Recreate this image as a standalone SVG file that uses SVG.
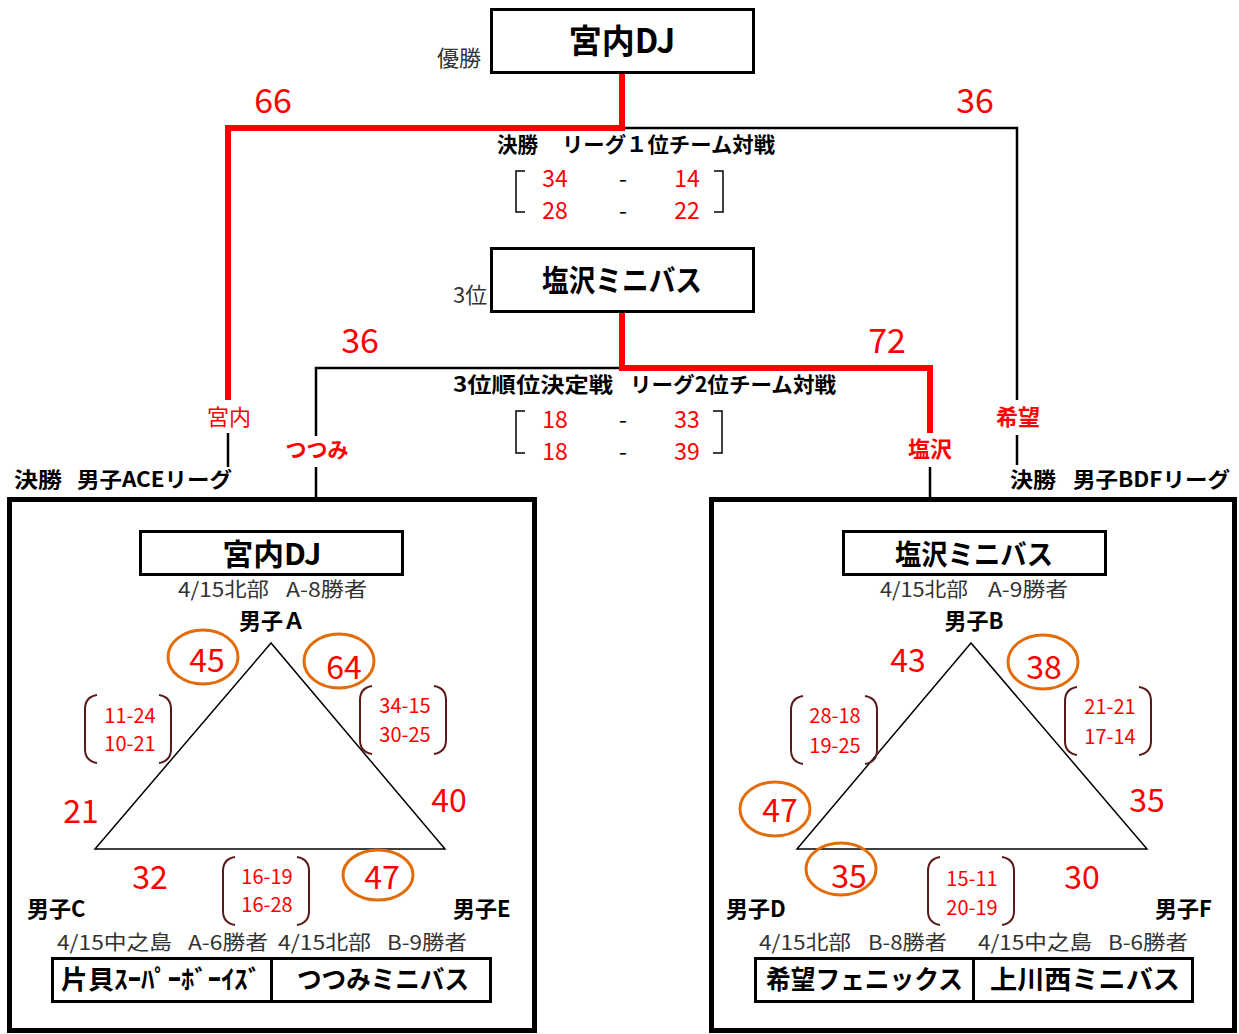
<svg xmlns="http://www.w3.org/2000/svg" width="1239" height="1034" viewBox="0 0 1239 1034">
<style>
text{font-family:"Noto Sans CJK JP","Noto Sans CJK SC",sans-serif}
.b{font-weight:700;fill:#000}
.n{fill:#333}
.r{fill:#f00}
.rb{fill:#f00;font-weight:700}
.m{text-anchor:middle}
.blk{stroke:#000;stroke-width:2.5;fill:none}
.red{stroke:#f00;stroke-width:6;fill:none}
.box{stroke:#000;stroke-width:3;fill:#fff}
.big{stroke:#000;stroke-width:5;fill:none}
.ov{stroke:#E36C0A;stroke-width:3;fill:none}
.br{stroke:#5a1a1a;stroke-width:2;fill:none}
.sq{stroke:#000;stroke-width:1.5;fill:none}
.tri{stroke:#000;stroke-width:1.5;fill:#fff}
.s34{font-size:32px}
.s24{font-size:23px}
.s20{font-size:20px}
</style>
<defs>
<path id="pb" class="br" d="M12,0 Q0,2 0,14 V54 Q0,66 12,68 M74,0 Q86,2 86,14 V54 Q86,66 74,68"/>
</defs>

<g id="connectors">
<polyline class="blk" points="622,128 1017,128 1017,400"/>
<line class="blk" x1="1017" y1="435" x2="1017" y2="465"/>
<polyline class="red" points="622,73 622,128 228,128 228,400"/>
<line class="blk" x1="228" y1="433" x2="228" y2="467"/>
<polyline class="blk" points="622,368 316,368 316,436"/>
<line class="blk" x1="316" y1="467" x2="316" y2="499"/>
<polyline class="red" points="622,313 622,368 930,368 930,433"/>
<line class="blk" x1="930" y1="467" x2="930" y2="499"/>
</g>

<g id="champion">
<rect class="box" x="491.5" y="9.5" width="262" height="63"/>
<text class="b m" x="622" y="53" font-size="33">宮内DJ</text>
<text class="n" x="437" y="66" font-size="22">優勝</text>
</g>
<g id="third">
<rect class="box" x="491.5" y="248.5" width="262" height="63"/>
<text class="b m" x="622" y="291" font-size="30" textLength="160" lengthAdjust="spacingAndGlyphs">塩沢ミニバス</text>
<text class="n" x="453" y="303" font-size="22">3位</text>
</g>

<g id="final-scores">
<text class="r m" x="273" y="113" font-size="34">66</text>
<text class="r m" x="975" y="113" font-size="34">36</text>
<text class="b" x="497" y="152" font-size="21" textLength="41" lengthAdjust="spacingAndGlyphs">決勝</text>
<text class="b" x="562" y="152" font-size="21" textLength="213" lengthAdjust="spacingAndGlyphs">リーグ１位チーム対戦</text>
<path class="sq" d="M525,171 H516 V212 H525 M714,171 H723 V212 H714"/>
<text class="r m s24" x="555" y="187">34</text>
<text class="m s24" x="623" y="187">-</text>
<text class="r m s24" x="687" y="187">14</text>
<text class="r m s24" x="555" y="219">28</text>
<text class="m s24" x="623" y="219">-</text>
<text class="r m s24" x="687" y="219">22</text>
</g>

<g id="third-scores">
<text class="r m" x="360" y="353" font-size="34">36</text>
<text class="r m" x="887" y="353" font-size="34">72</text>
<text class="b" x="453" y="392" font-size="21" textLength="160" lengthAdjust="spacingAndGlyphs">3位順位決定戦</text>
<text class="b" x="630" y="392" font-size="21" textLength="206" lengthAdjust="spacingAndGlyphs">リーグ2位チーム対戦</text>
<path class="sq" d="M525,411 H516 V453 H525 M713,411 H722 V453 H713"/>
<text class="r m s24" x="555" y="428">18</text>
<text class="m s24" x="623" y="428">-</text>
<text class="r m s24" x="687" y="428">33</text>
<text class="r m s24" x="555" y="460">18</text>
<text class="m s24" x="623" y="460">-</text>
<text class="r m s24" x="687" y="460">39</text>
</g>

<g id="labels">
<text class="r m" x="229" y="425" font-size="22">宮内</text>
<text class="rb m" x="317" y="457" font-size="21">つつみ</text>
<text class="rb m" x="930" y="457" font-size="22">塩沢</text>
<text class="rb m" x="1018" y="425" font-size="22">希望</text>
<text class="b" x="14" y="487" font-size="21" textLength="48" lengthAdjust="spacingAndGlyphs">決勝</text>
<text class="b" x="77" y="487" font-size="21" textLength="155" lengthAdjust="spacingAndGlyphs">男子ACEリーグ</text>
<text class="b" x="1010" y="487" font-size="21" textLength="46" lengthAdjust="spacingAndGlyphs">決勝</text>
<text class="b" x="1073" y="487" font-size="21" textLength="157" lengthAdjust="spacingAndGlyphs">男子BDFリーグ</text>
</g>

<g id="league-ace">
<rect class="big" x="9.5" y="499.5" width="525" height="531"/>
<rect class="box" x="140.5" y="531.5" width="262" height="43"/>
<text class="b m" x="272" y="565" font-size="30" textLength="99" lengthAdjust="spacingAndGlyphs">宮内DJ</text>
<text class="n" x="178" y="597" font-size="20" textLength="91" lengthAdjust="spacingAndGlyphs">4/15北部</text>
<text class="n" x="286" y="597" font-size="20" textLength="81" lengthAdjust="spacingAndGlyphs">A-8勝者</text>
<text class="b m" x="272" y="629" font-size="22">男子Ａ</text>
<polygon class="tri" points="271,643 95,849 445,849"/>
<ellipse class="ov" cx="203" cy="657" rx="35" ry="27"/>
<ellipse class="ov" cx="339" cy="661" rx="35" ry="27"/>
<ellipse class="ov" cx="378" cy="875" rx="35" ry="25"/>
<text class="r m s34" x="207" y="672">45</text>
<text class="r m s34" x="344" y="679">64</text>
<text class="r m s34" x="81" y="823">21</text>
<text class="r m s34" x="449" y="812">40</text>
<text class="r m s34" x="150" y="889">32</text>
<text class="r m s34" x="382" y="889">47</text>
<use href="#pb" transform="translate(85,695)"/>
<use href="#pb" transform="translate(360,686)"/>
<use href="#pb" transform="translate(223,857)"/>
<text class="r m s20" x="130" y="723">11-24</text>
<text class="r m s20" x="130" y="751">10-21</text>
<text class="r m s20" x="405" y="713">34-15</text>
<text class="r m s20" x="405" y="742">30-25</text>
<text class="r m s20" x="267" y="884">16-19</text>
<text class="r m s20" x="267" y="912">16-28</text>
<text class="b" x="27" y="917" font-size="22">男子C</text>
<text class="b" x="453" y="917" font-size="22">男子E</text>
<text class="n" x="57" y="950" font-size="20" textLength="115" lengthAdjust="spacingAndGlyphs">4/15中之島</text>
<text class="n" x="188" y="950" font-size="20" textLength="80" lengthAdjust="spacingAndGlyphs">A-6勝者</text>
<text class="n" x="278" y="950" font-size="20" textLength="93" lengthAdjust="spacingAndGlyphs">4/15北部</text>
<text class="n" x="387" y="950" font-size="20" textLength="80" lengthAdjust="spacingAndGlyphs">B-9勝者</text>
<rect class="box" x="52.5" y="958.5" width="219" height="43"/>
<rect class="box" x="271.5" y="958.5" width="219" height="43"/>
<text class="b" x="61" y="989" font-size="26" textLength="200" lengthAdjust="spacingAndGlyphs">片貝ｽｰﾊﾟｰﾎﾞｰｲｽﾞ</text>
<text class="b" x="297" y="989" font-size="26" textLength="172" lengthAdjust="spacingAndGlyphs">つつみミニバス</text>
</g>

<g id="league-bdf">
<rect class="big" x="711.5" y="499.5" width="523" height="531"/>
<rect class="box" x="843.5" y="531.5" width="262" height="43"/>
<text class="b m" x="974" y="565" font-size="28" textLength="158" lengthAdjust="spacingAndGlyphs">塩沢ミニバス</text>
<text class="n" x="880" y="597" font-size="20" textLength="88" lengthAdjust="spacingAndGlyphs">4/15北部</text>
<text class="n" x="988" y="597" font-size="20" textLength="80" lengthAdjust="spacingAndGlyphs">A-9勝者</text>
<text class="b m" x="974" y="629" font-size="22">男子B</text>
<polygon class="tri" points="971,643 797,849 1147,849"/>
<ellipse class="ov" cx="1043" cy="662" rx="35" ry="27"/>
<ellipse class="ov" cx="775" cy="809" rx="35" ry="27"/>
<ellipse class="ov" cx="841" cy="869" rx="35" ry="26"/>
<text class="r m s34" x="908" y="672">43</text>
<text class="r m s34" x="1044" y="679">38</text>
<text class="r m s34" x="780" y="822">47</text>
<text class="r m s34" x="1147" y="812">35</text>
<text class="r m s34" x="849" y="888">35</text>
<text class="r m s34" x="1082" y="889">30</text>
<use href="#pb" transform="translate(791,696)"/>
<use href="#pb" transform="translate(1065,687)"/>
<use href="#pb" transform="translate(928,857)"/>
<text class="r m s20" x="835" y="723">28-18</text>
<text class="r m s20" x="835" y="753">19-25</text>
<text class="r m s20" x="1110" y="714">21-21</text>
<text class="r m s20" x="1110" y="744">17-14</text>
<text class="r m s20" x="972" y="886">15-11</text>
<text class="r m s20" x="972" y="915">20-19</text>
<text class="b" x="726" y="917" font-size="22">男子D</text>
<text class="b" x="1155" y="917" font-size="22">男子F</text>
<text class="n" x="759" y="950" font-size="20" textLength="92" lengthAdjust="spacingAndGlyphs">4/15北部</text>
<text class="n" x="868" y="950" font-size="20" textLength="79" lengthAdjust="spacingAndGlyphs">B-8勝者</text>
<text class="n" x="978" y="950" font-size="20" textLength="114" lengthAdjust="spacingAndGlyphs">4/15中之島</text>
<text class="n" x="1108" y="950" font-size="20" textLength="80" lengthAdjust="spacingAndGlyphs">B-6勝者</text>
<rect class="box" x="755.5" y="958.5" width="218" height="43"/>
<rect class="box" x="973.5" y="958.5" width="219" height="43"/>
<text class="b" x="766" y="989" font-size="26" textLength="197" lengthAdjust="spacingAndGlyphs">希望フェニックス</text>
<text class="b" x="990" y="989" font-size="26" textLength="190" lengthAdjust="spacingAndGlyphs">上川西ミニバス</text>
</g>
</svg>
